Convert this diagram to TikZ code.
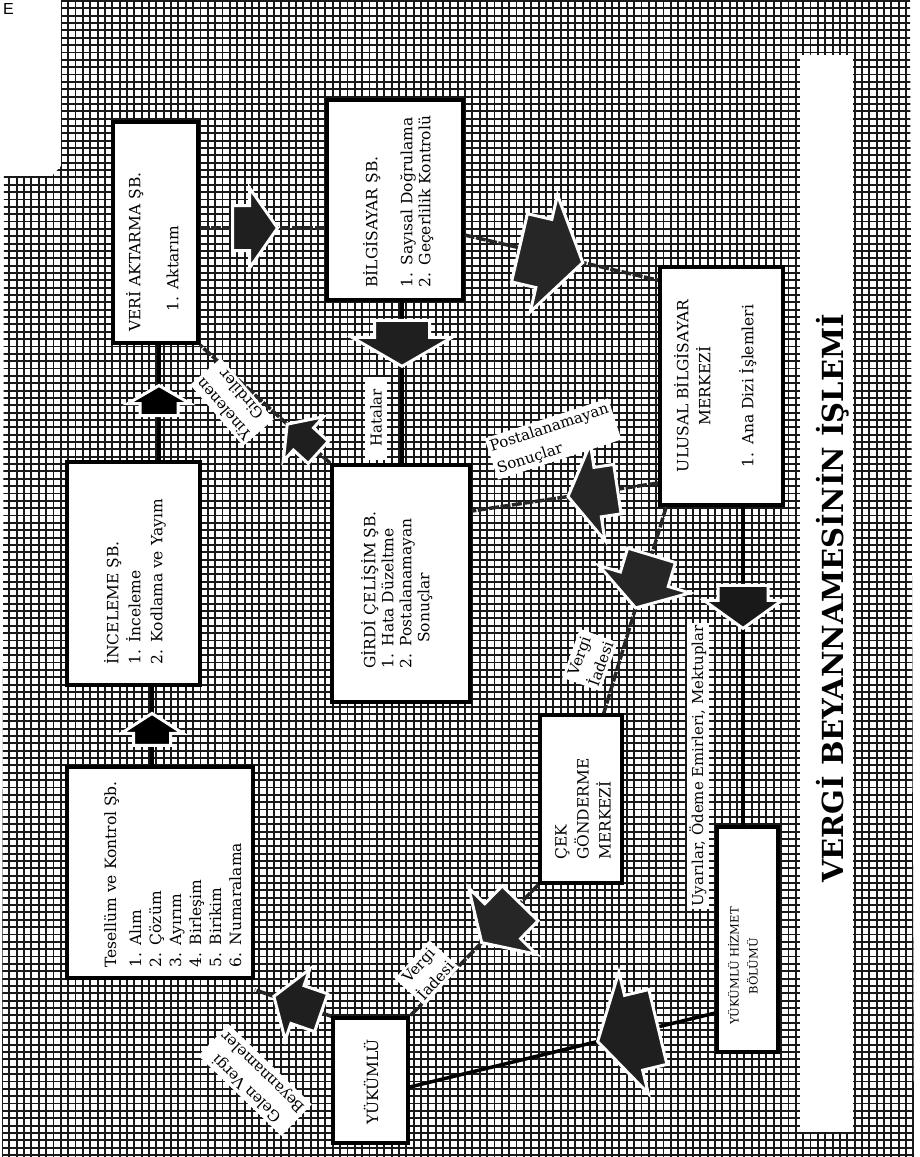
\documentclass[tikz,border=0pt]{standalone}
\usepackage{fontspec}
\setmainfont{DejaVu Serif}
\newfontfamily\marginfont{Liberation Sans}
\begin{document}
\begin{tikzpicture}[x=1pt,y=-1pt,
  gridline/.style={line width=1.9pt, black!90},
  box/.style={draw=black, line width=3.5pt, fill=white, inner sep=0pt},
  boxtext/.style={rotate=90, anchor=north west, align=left, inner sep=0pt,
    font=\fontsize{15.5}{#1}\selectfont},
  boxtext/.default=20,
  lbl/.style={fill=white, inner sep=3pt, font=\fontsize{15}{23}\selectfont},
  conn/.style={line width=3.5pt, black},
  rough/.style={line width=3.5pt, black!85, dash pattern=on 10pt off 1.5pt},
  onpath/.style={pos=#1, sloped, allow upside down},
  % block arrow: tip at the origin, pointing along +x
  % {total length}{head width}{head length}{shaft width}{fill}
  pics/fat/.style n args={5}{code={
    \filldraw[fill=#5, draw=white, line width=3pt, solid, line join=miter]
      (0,0) -- (-#3,-#2/2) -- (-#3,-#4/2) -- (-#1,-#4/2) -- (-#1,#4/2)
      -- (-#3,#4/2) -- (-#3,#2/2) -- cycle;
  }},
]
\useasboundingbox (0,0) rectangle (919,1157);
\fill[white] (0,0) rectangle (919,1157);

% screened background grid
\begin{scope}
  \clip (61,0) -- (910,0) -- (914,1157) -- (2,1157) -- (4,176) -- (52,176) -- (61,166) -- cycle;
  \foreach \i in {0,...,125} \draw[gridline] (\i*7.35+2,0) -- (\i*7.35+2,1157);
  \foreach \j in {0,...,158} \draw[gridline] (0,\j*7.35+1) -- (919,\j*7.35+1);
\end{scope}

\node[anchor=north west, inner sep=0pt, font=\marginfont\fontsize{16}{16}\selectfont] (pg) at (3,3) {E};

% title strip
\node[fill=white, inner sep=0pt, minimum width=53pt, minimum height=1077pt] (tbox) at (826.5,593.5) {};
\node[rotate=90, inner sep=0pt, font=\bfseries\fontsize{29}{30}\selectfont] (title) at (833,598.5) {VERGİ BEYANNAMESİNİN İŞLEMİ};

% boxes
\node[box, minimum width=186pt, minimum height=211pt] (tesel) at (160,872.5) {};
\node[box, minimum width=133pt, minimum height=223pt] (incel) at (133.5,573.5) {};
\node[box, minimum width=85pt,  minimum height=221pt] (veri) at (155.5,232.5) {};
\node[box, minimum width=136pt, minimum height=200pt] (bilg) at (395,200) {};
\node[box, minimum width=138pt, minimum height=237pt] (girdi) at (401,583.5) {};
\node[box, minimum width=123pt, minimum height=238pt] (ulusal) at (721.5,386) {};
\node[box, minimum width=82pt,  minimum height=168pt] (cek) at (581,799) {};
\node[box, minimum width=75pt,  minimum height=125pt] (yuk) at (370.5,1080.5) {};
\node[box, minimum width=61pt,  minimum height=225pt] (yhiz) at (747.5,939.5) {};

% box texts
\node[boxtext=20] (tesel-t) at (104,968) {Tesellüm ve Kontrol Şb.\\[5pt]1.\enspace Alım\\2.\enspace Çözüm\\3.\enspace Ayırım\\4.\enspace Birleşim\\5.\enspace Birikim\\6.\enspace Numaralama};
\node[boxtext=22] (incel-t) at (104,665) {İNCELEME ŞB.\\1.\enspace İnceleme\\2.\enspace Kodlama ve Yayım};
\node[boxtext=20] (veri-t) at (126,332) {VERİ AKTARMA ŞB.\\[18pt]\hspace*{20pt}1.\enspace Aktarım};
\node[boxtext=18] (bilg-t) at (363,288) {BİLGİSAYAR ŞB.\\[17pt]1.\enspace Sayısal Doğrulama\\2.\enspace Geçerlilik Kontrolü};
\node[boxtext=18] (girdi-t) at (361,669) {GİRDİ ÇELİŞİM ŞB.\\1.\enspace Hata Düzeltme\\2.\enspace Postalanamayan\\\hspace*{26pt}Sonuçlar};
\node[boxtext=22, anchor=north, align=center] (ulusal-t) at (674,386) {ULUSAL BİLGİSAYAR\\MERKEZİ\\[21pt]1.\enspace Ana Dizi İşlemleri};
\node[boxtext=22] (cek-t) at (555,860) {ÇEK\\GÖNDERME\\MERKEZİ};
\node[boxtext, anchor=center] (yuk-t) at (371,1082) {YÜKÜMLÜ};
\node[rotate=90, inner sep=0pt, align=center, font=\fontsize{11.5}{19}\selectfont] (yhiz-t) at (743,966) {YÜKÜMLÜ HİZMET\\BÖLÜMÜ};

% connectors with block arrows
\draw[conn] ([xshift=-8pt]tesel.north) -- pic[onpath=0.66] {fat={32}{62}{20}{37}{black}} ([xshift=18.5pt]incel.south);
\draw[conn] ([xshift=25.5pt]incel.north) -- pic[onpath=0.647] {fat={30}{62}{18}{38}{black}} ([xshift=3.5pt]veri.south);
\draw[rough] ([yshift=4.5pt]veri.east) -- pic[onpath=0.62] {fat={45}{80}{28}{45}{black!88}} ([yshift=-28pt]bilg.west);
\draw[conn] ([xshift=7pt]bilg.south) -- pic[onpath=0.4] {fat={46}{100}{29}{55}{black!88}} ([xshift=1pt]girdi.north);
\draw[rough] (girdi.north west) -- pic[onpath=0.33] {fat={42}{60}{22}{30}{black!88}} (veri.south east);
\draw[rough] ([yshift=-35pt]bilg.east) -- pic[onpath=0.61] {fat={65}{120}{40}{70}{black!85}} ([yshift=-15pt]ulusal.north west);
\draw[rough] ([yshift=-97pt]ulusal.west) -- pic[onpath=0.484] {fat={50}{98}{30}{50}{black!85}} ([yshift=72.5pt]girdi.east);
\draw[rough] ([xshift=8pt]ulusal.south west) -- pic[onpath=0.49] {fat={55}{95}{30}{50}{black!85}} ([xshift=-20pt]cek.north east);
\draw[conn] ([xshift=21.5pt]ulusal.south) -- pic[onpath=0.382] {fat={43}{78}{28}{50}{black!90}} ([xshift=-4.5pt]yhiz.north);
\draw[rough] (cek.south west) -- pic[onpath=0.44] {fat={55}{95}{30}{50}{black!85}} (yuk.north east);
\draw[rough] (yuk.north west) -- pic[onpath=0.75] {fat={50}{75}{25}{40}{black!88}} ([yshift=-10pt]tesel.south east);
\draw[conn] ([yshift=-73.5pt]yhiz.west) -- pic[onpath=0.385] {fat={62}{125}{37}{77}{black!88}} ([yshift=-6.5pt]yuk.east);

% connector labels
\node[lbl, rotate=90, minimum width=83pt, minimum height=22pt] (hatalar) at (376,418) {Hatalar};
\node[lbl, rotate=131, align=center] (yinelenen) at (232,402) {Yinelenen\\Girdiler};
\node[lbl, rotate=18, align=left] (postal) at (553,439) {Postalanamayan\\Sonuçlar};
\node[lbl, rotate=70, align=center] (iade1) at (590,660) {Vergi\\İadesi};
\node[lbl, rotate=48, align=center] (iade2) at (427,973) {Vergi\\İadesi};
\node[lbl, rotate=136, align=center] (gelen) at (255,1080) {Gelen Vergi\\Beyannameler};
\node[lbl, rotate=90, inner sep=2pt] (uyari) at (698,766) {Uyarılar, Ödeme Emirleri, Mektuplar};
\end{tikzpicture}
\end{document}
